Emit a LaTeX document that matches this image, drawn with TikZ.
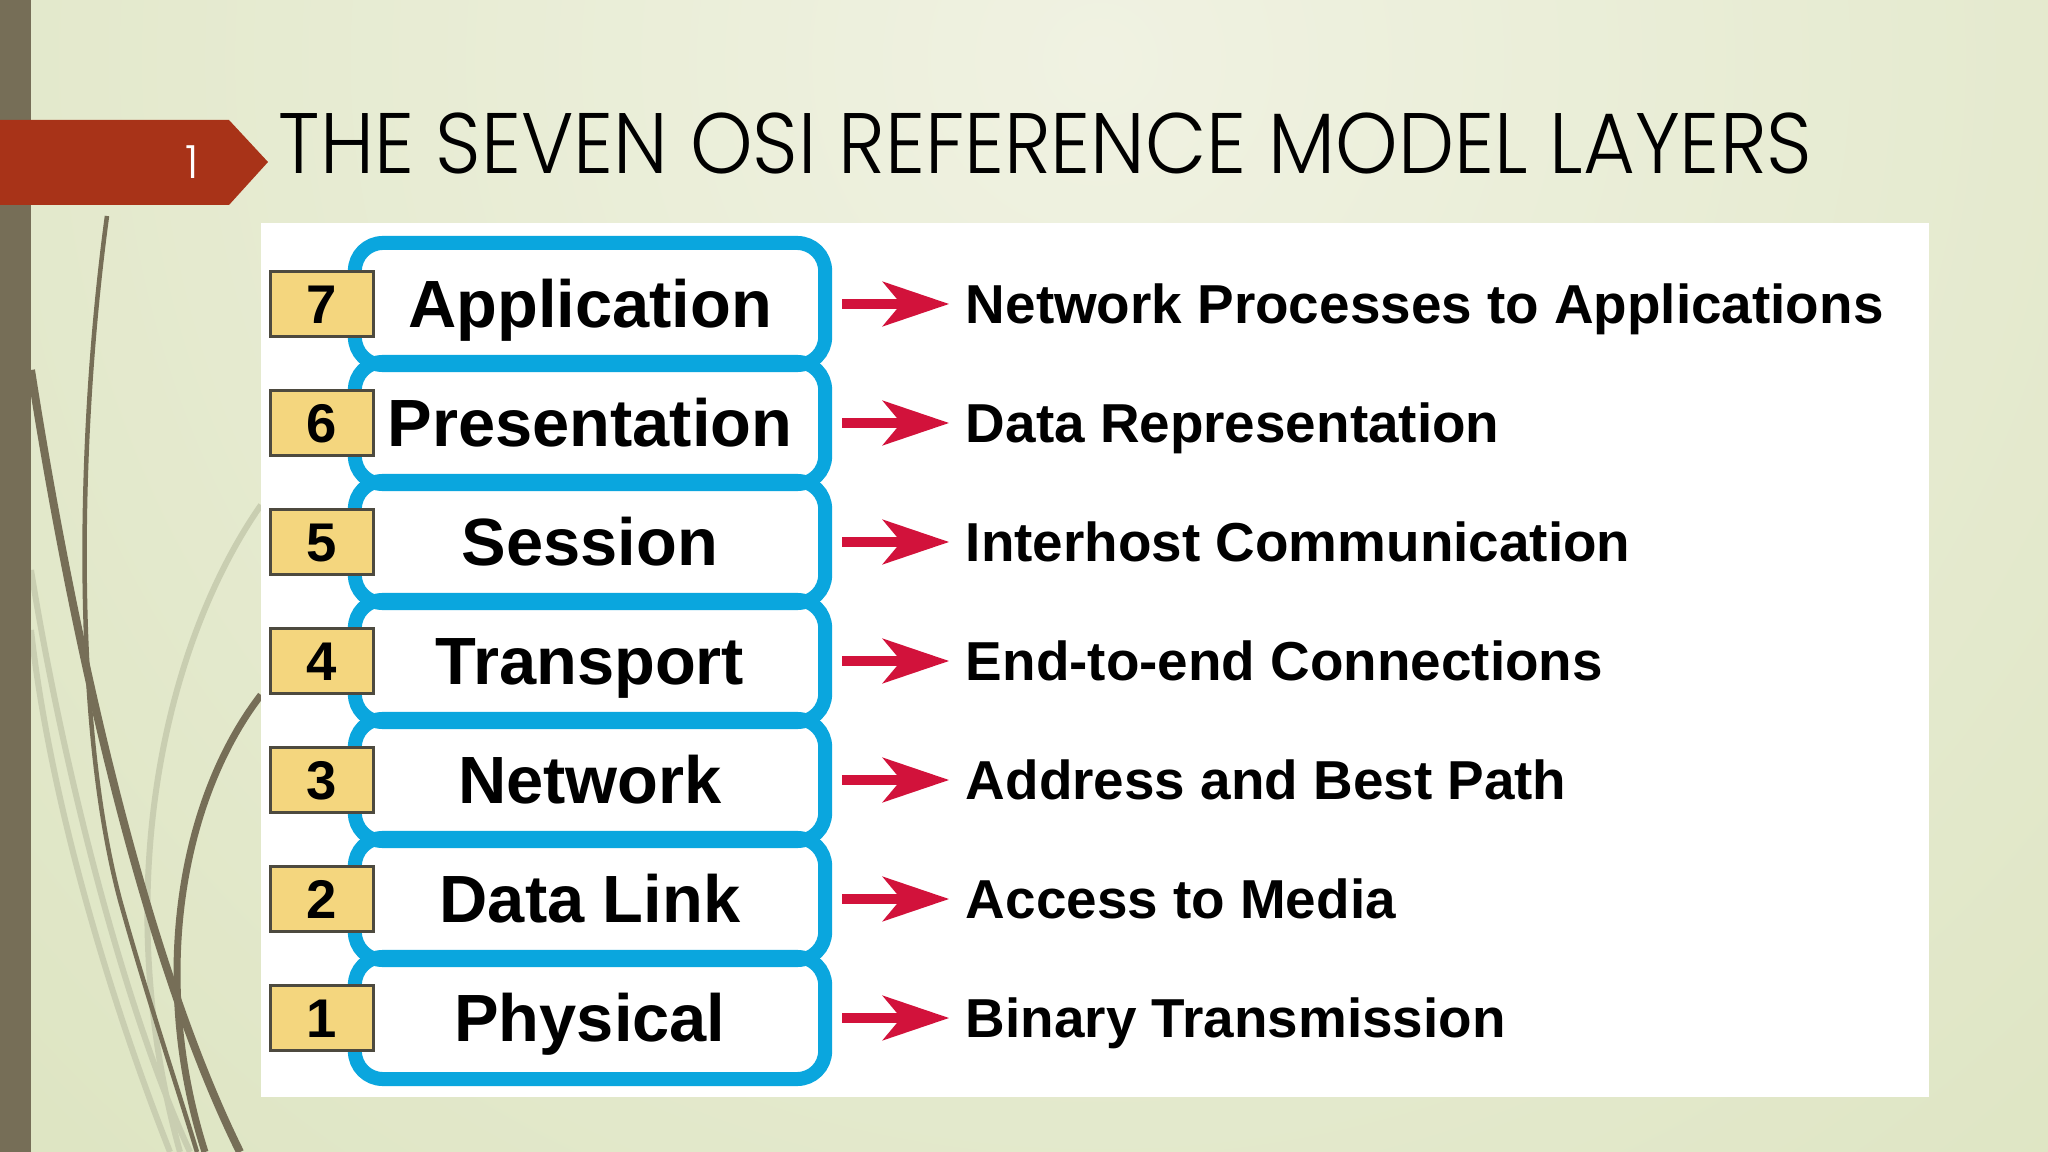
\documentclass[tikz,border=0pt]{standalone}
\usepackage{fontspec}
\setsansfont{Liberation Sans}
\IfFontExistsTF{Poppins Light}{\newfontfamily\titlefont{Poppins Light}}{\newfontfamily\titlefont{Poppins}}
\usepackage{tikz}
\usetikzlibrary{positioning, arrows.meta}
\usepackage{xcolor}

\definecolor{bgdark}{HTML}{DEE5C3}
\definecolor{bglight}{HTML}{F0F2E2}
\definecolor{stemdark}{HTML}{766E57}
\definecolor{stemlight}{HTML}{C9CEB1}
\definecolor{bannerred}{HTML}{A83318}
\definecolor{osiblue}{HTML}{0AA6DE}
\definecolor{numfill}{HTML}{F4D67E}
\definecolor{numedge}{HTML}{4D4A3F}
\definecolor{arrowred}{HTML}{D2123B}

\tikzset{
    layer/.style={draw=osiblue, line width=1.4mm, rounded corners=2.8mm,
        minimum width=4.7cm, minimum height=1.22cm, inner sep=0pt,
        font=\sffamily\bfseries\fontsize{19}{22}\selectfont,
        text height=13.6pt, text depth=0pt},
    numbox/.style={draw=numedge, line width=0.3mm, fill=numfill,
        minimum width=1.03cm, minimum height=0.65cm, inner sep=0pt,
        font=\sffamily\bfseries\fontsize{15.5}{18}\selectfont,
        text height=11pt, text depth=0pt},
    desc/.style={inner sep=0pt, font=\sffamily\bfseries\fontsize{15.6}{18}\selectfont,
        text height=11.2pt, text depth=0pt},
    osiarrow/.style={draw=arrowred, line width=1mm,
        -{Stealth[length=6.6mm, width=4.4mm, inset=1.8mm]},
        shorten <=1mm, shorten >=1.6mm},
    stem/.style={draw=stemdark, line width=0.6mm},
    stemfaint/.style={draw=stemlight, line width=0.6mm}
}

\begin{document}
\begin{tikzpicture}[x=0.01cm, y=-0.01cm]
    \useasboundingbox (0,0) rectangle (2048,1152);

    % slide background
    \fill[bgdark] (0,0) rectangle (2048,1152);
    \begin{scope}
        \clip (0,0) rectangle (2048,1152);
        \shade[inner color=bglight, outer color=bgdark] (1100,60) circle (1500);
    \end{scope}

    % grass stems on the left
    \draw[stemfaint] (31,570) .. controls (60,750) and (120,1000) .. (190,1152);
    \draw[stemfaint] (31,630) .. controls (50,800) and (110,1000) .. (170,1152);
    \draw[stemfaint] (261,505) .. controls (160,650) and (110,900) .. (180,1152);
    \draw[stem, line width=0.45mm] (107,216) .. controls (78,430) and (72,720) .. (120,900)
        .. controls (145,990) and (175,1080) .. (197,1152);
    \draw[stem, line width=0.8mm] (31,370) .. controls (70,620) and (140,950) .. (240,1152);
    \draw[stem, line width=0.7mm] (261,695) .. controls (180,800) and (150,980) .. (205,1152);
    \fill[stemdark] (0,0) rectangle (31,1152);

    % title banner
    \fill[bannerred] (0,120) -- (229,120) -- (268,162) -- (229,205) -- (0,205) -- cycle;
    \node[white, inner sep=0pt, font=\titlefont\fontsize{13}{15}\selectfont,
        text height=9.4pt, text depth=0pt] (slideno) at (192,162) {1};
    \node[anchor=base west, inner sep=0pt, text=black,
        font=\titlefont\fontsize{24.4}{28}\selectfont] (title) at (278,174)
        {\scalebox{0.927}[1]{THE SEVEN OSI REFERENCE MODEL LAYERS}};

    % picture panel
    \fill[white] (261,223) rectangle (1929,1097);

    % layers
    \node[layer] (l7) at (590,304) {Application};
    \node[layer] (l6) at (590,423) {Presentation};
    \node[layer] (l5) at (590,542) {Session};
    \node[layer] (l4) at (590,661) {Transport};
    \node[layer] (l3) at (590,780) {Network};
    \node[layer] (l2) at (590,899) {Data Link};
    \node[layer] (l1) at (590,1018) {Physical};

    % layer numbers
    \node[numbox, left=-2.7mm of l7] (n7) {7};
    \node[numbox, left=-2.7mm of l6] (n6) {6};
    \node[numbox, left=-2.7mm of l5] (n5) {5};
    \node[numbox, left=-2.7mm of l4] (n4) {4};
    \node[numbox, left=-2.7mm of l3] (n3) {3};
    \node[numbox, left=-2.7mm of l2] (n2) {2};
    \node[numbox, left=-2.7mm of l1] (n1) {1};

    % what each layer does
    \node[desc, right=13.3mm of l7] (d7) {Network Processes to Applications};
    \node[desc, right=13.3mm of l6] (d6) {Data Representation};
    \node[desc, right=13.3mm of l5] (d5) {Interhost Communication};
    \node[desc, right=13.3mm of l4] (d4) {End-to-end Connections};
    \node[desc, right=13.3mm of l3] (d3) {Address and Best Path};
    \node[desc, right=13.3mm of l2] (d2) {Access to Media};
    \node[desc, right=13.3mm of l1] (d1) {Binary Transmission};

    \draw[osiarrow] (l7) -- (d7);
    \draw[osiarrow] (l6) -- (d6);
    \draw[osiarrow] (l5) -- (d5);
    \draw[osiarrow] (l4) -- (d4);
    \draw[osiarrow] (l3) -- (d3);
    \draw[osiarrow] (l2) -- (d2);
    \draw[osiarrow] (l1) -- (d1);
\end{tikzpicture}
\end{document}
